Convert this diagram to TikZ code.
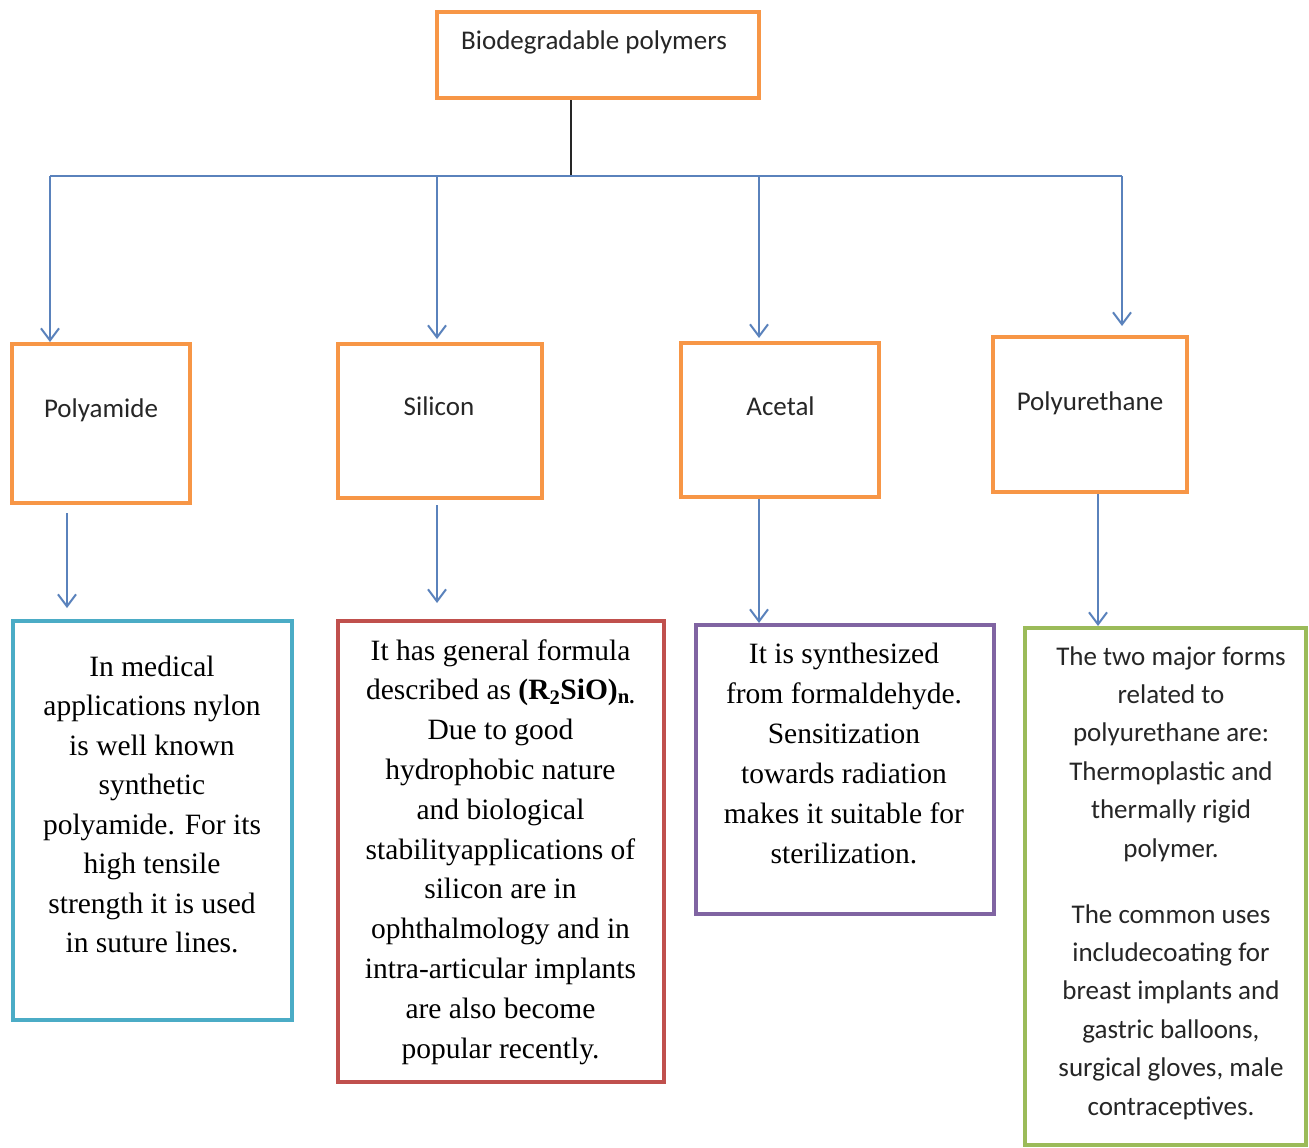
\documentclass[tikz,border=0pt]{standalone}
\usepackage{fontspec}
\setmainfont{Liberation Serif}
\newfontfamily\labelfont{Carlito}
\usetikzlibrary{arrows.meta,calc}
\definecolor{boxorange}{HTML}{F79646}
\definecolor{boxteal}{HTML}{4BACC6}
\definecolor{boxred}{HTML}{C0504D}
\definecolor{boxpurple}{HTML}{8064A2}
\definecolor{boxgreen}{HTML}{9BBB59}
\definecolor{linkblue}{HTML}{5A82BC}
\definecolor{labelgray}{HTML}{262626}
\begin{document}
\begin{tikzpicture}[x=1pt,y=-1pt,
  catbox/.style={draw=boxorange, line width=4pt, inner sep=0pt},
  descbox/.style={line width=4pt, inner sep=0pt},
  conn/.style={draw=linkblue, line width=2pt},
  arr/.style={conn, -{Straight Barb[length=12pt,width=18pt]}},
  head/.style={font=\labelfont\fontsize{27}{32}\selectfont, text=labelgray, inner sep=0pt, anchor=base},
  para/.style={inner sep=0pt, anchor=base}]

% page
\fill[white] (0,0) rectangle (1309,1148);
\useasboundingbox (0,0) rectangle (1309,1148);

% root
\node[catbox, minimum width=322pt, minimum height=86pt] (root) at (598,55) {};
\node[head] (rootlabel) at (594,50) {Biodegradable polymers};

% polymer classes
\node[catbox, minimum width=178pt, minimum height=159pt] (polyamide) at (101,423.5) {};
\node[catbox, minimum width=204pt, minimum height=154pt] (silicon) at (440,421) {};
\node[catbox, minimum width=198pt, minimum height=154pt] (acetal) at (780,420) {};
\node[catbox, minimum width=194pt, minimum height=155pt] (polyurethane) at (1090,414.5) {};
\node[head] (polyamidelabel) at (101,417) {Polyamide};
\node[head] (siliconlabel) at (439,415) {Silicon};
\node[head] (acetallabel) at (780.5,415) {Acetal};
\node[head] (polyurethanelabel) at (1090,410) {Polyurethane};

% descriptions
\node[descbox, draw=boxteal, minimum width=279pt, minimum height=399pt] (nylonbox) at (152.5,820.5) {};
\node[descbox, draw=boxred, minimum width=326pt, minimum height=461pt] (siliconbox) at (501,851.5) {};
\node[descbox, draw=boxpurple, minimum width=298pt, minimum height=289pt] (acetalbox) at (845,769.5) {};
\node[descbox, draw=boxgreen, minimum width=281pt, minimum height=517pt] (pubox) at (1165.5,886.5) {};

\node[para] (nylontext) at (152,676) {\parbox[t]{300pt}{\centering\fontsize{29.5}{39.5}\selectfont
In medical\\
applications nylon\\
is well known\\
synthetic\\
polyamide. For its\\
high tensile\\
strength it is used\\
in suture lines.}};

\node[para] (silicontext) at (500.5,660) {\parbox[t]{320pt}{\centering\fontsize{29.5}{39.8}\selectfont
It has general formula\\
described as \textbf{(R\textsubscript{2}SiO)\textsubscript{n.}}\\
Due to good\\
hydrophobic nature\\
and biological\\
stabilityapplications of\\
silicon are in\\
ophthalmology and in\\
intra-articular implants\\
are also become\\
popular recently.}};

\node[para] (acetaltext) at (844,663) {\parbox[t]{300pt}{\centering\fontsize{29.5}{40}\selectfont
It is synthesized\\
from formaldehyde.\\
Sensitization\\
towards radiation\\
makes it suitable for\\
sterilization.}};

\node[para, text=labelgray] (putext) at (1171,665) {\parbox[t]{280pt}{\centering\labelfont\fontsize{27}{38.4}\selectfont
The two major forms\\
related to\\
polyurethane are:\\
Thermoplastic and\\
thermally rigid\\
polymer.\\[27.6pt]
The common uses\\
includecoating for\\
breast implants and\\
gastric balloons,\\
surgical gloves, male\\
contraceptives.}};

% tree connectors
\coordinate (bus) at (571,176);
\coordinate (busA) at (50,176);
\coordinate (busB) at (437,176);
\coordinate (busC) at (759,176);
\coordinate (busD) at (1122,176);
\draw[line width=1.5pt, draw=black!85] (root.south -| bus) -- (bus);
\draw[conn] (busA) -- (busD);
\draw[arr] (busA) -- (busA |- polyamide.north);
\draw[arr] (busB) -- ($(busB |- silicon.north)+(0,-3)$);
\draw[arr] (busC) -- ($(busC |- acetal.north)+(0,-3)$);
\draw[arr] (busD) -- ($(busD |- polyurethane.north)+(0,-9)$);

\coordinate (dropA) at (67,0);
\coordinate (dropB) at (437,0);
\coordinate (dropC) at (759,0);
\coordinate (dropD) at (1098,0);
\draw[arr, shorten <=8pt, shorten >=11pt] (polyamide.south -| dropA) -- (dropA |- nylonbox.north);
\draw[arr, shorten <=5pt, shorten >=16pt] (silicon.south -| dropB) -- (dropB |- siliconbox.north);
\draw[arr] (acetal.south -| dropC) -- (dropC |- acetalbox.north);
\draw[arr] (polyurethane.south -| dropD) -- (dropD |- pubox.north);
\end{tikzpicture}
\end{document}
